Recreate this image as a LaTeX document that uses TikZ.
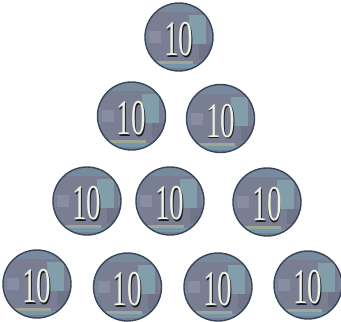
\documentclass[tikz,border=0pt]{standalone}
\usepackage{fontspec}
\setmainfont{Liberation Serif}
\definecolor{coinfill}{RGB}{122,126,146}
\definecolor{coinline}{RGB}{55,70,88}
\definecolor{cointeal}{RGB}{130,158,170}
\definecolor{coinlight}{RGB}{136,141,162}
\definecolor{coindark}{RGB}{112,116,136}
\definecolor{coinyellow}{RGB}{160,165,150}
\definecolor{coinblue}{RGB}{118,150,170}
\definecolor{coincream}{RGB}{238,242,226}
\definecolor{coinshadow}{RGB}{25,28,35}
\newcommand\coinnum{\scalebox{0.58}[1]{\fontsize{50}{50}\selectfont\makebox[0pt][l]{\hspace{1.6pt}\raisebox{-1.4pt}{\color{coinshadow}10}}\color{coincream}10}}
\tikzset{
  coin/.style={circle, draw=coinline, line width=1.4pt, fill=coinfill,
    minimum size=68pt, inner sep=0pt,
    path picture={
      \begin{scope}[shift={(path picture bounding box.center)}]
        \fill[coinblue!50!coinfill] (-34,-34) rectangle (34,-25);
        \fill[cointeal] (10,-22) rectangle (27,7);
        \fill[coinlight] (-30,-6) rectangle (-18,6);
        \fill[coindark] (20,7) rectangle (34,22);
        \fill[coinyellow] (-22,24) rectangle (14,27);
        \fill[coinblue] (-30,27) rectangle (30,31);
        \fill[coinblue!50!coinfill] (-34,-10) rectangle (-31,10);
        \fill[coinblue!50!coinfill] (31,-10) rectangle (34,4);
      \end{scope}
    }},
  coinlabel/.style={inner sep=0pt}
}
\begin{document}
\begin{tikzpicture}[x=1pt,y=-1pt]
\useasboundingbox (0,0) rectangle (341,322);
\fill[white] (0,0) rectangle (341,322);
\node[coin] (c1) at (179,37) {};
\node[coin] (c2) at (131.5,116) {};
\node[coin] (c3) at (220.5,118.5) {};
\node[coin] (c4) at (87,201) {};
\node[coin] (c5) at (170,201) {};
\node[coin] (c6) at (267,202) {};
\node[coin] (c7) at (37,284) {};
\node[coin] (c8) at (127.5,287) {};
\node[coin] (c9) at (218,287) {};
\node[coin] (c10) at (308,285) {};
\foreach \n in {c1,c2,c3,c4,c5,c6,c7,c8,c9,c10}{
  \node[coinlabel] (t\n) at ([yshift=-3pt]\n.center) {\coinnum};
}
\end{tikzpicture}
\end{document}
